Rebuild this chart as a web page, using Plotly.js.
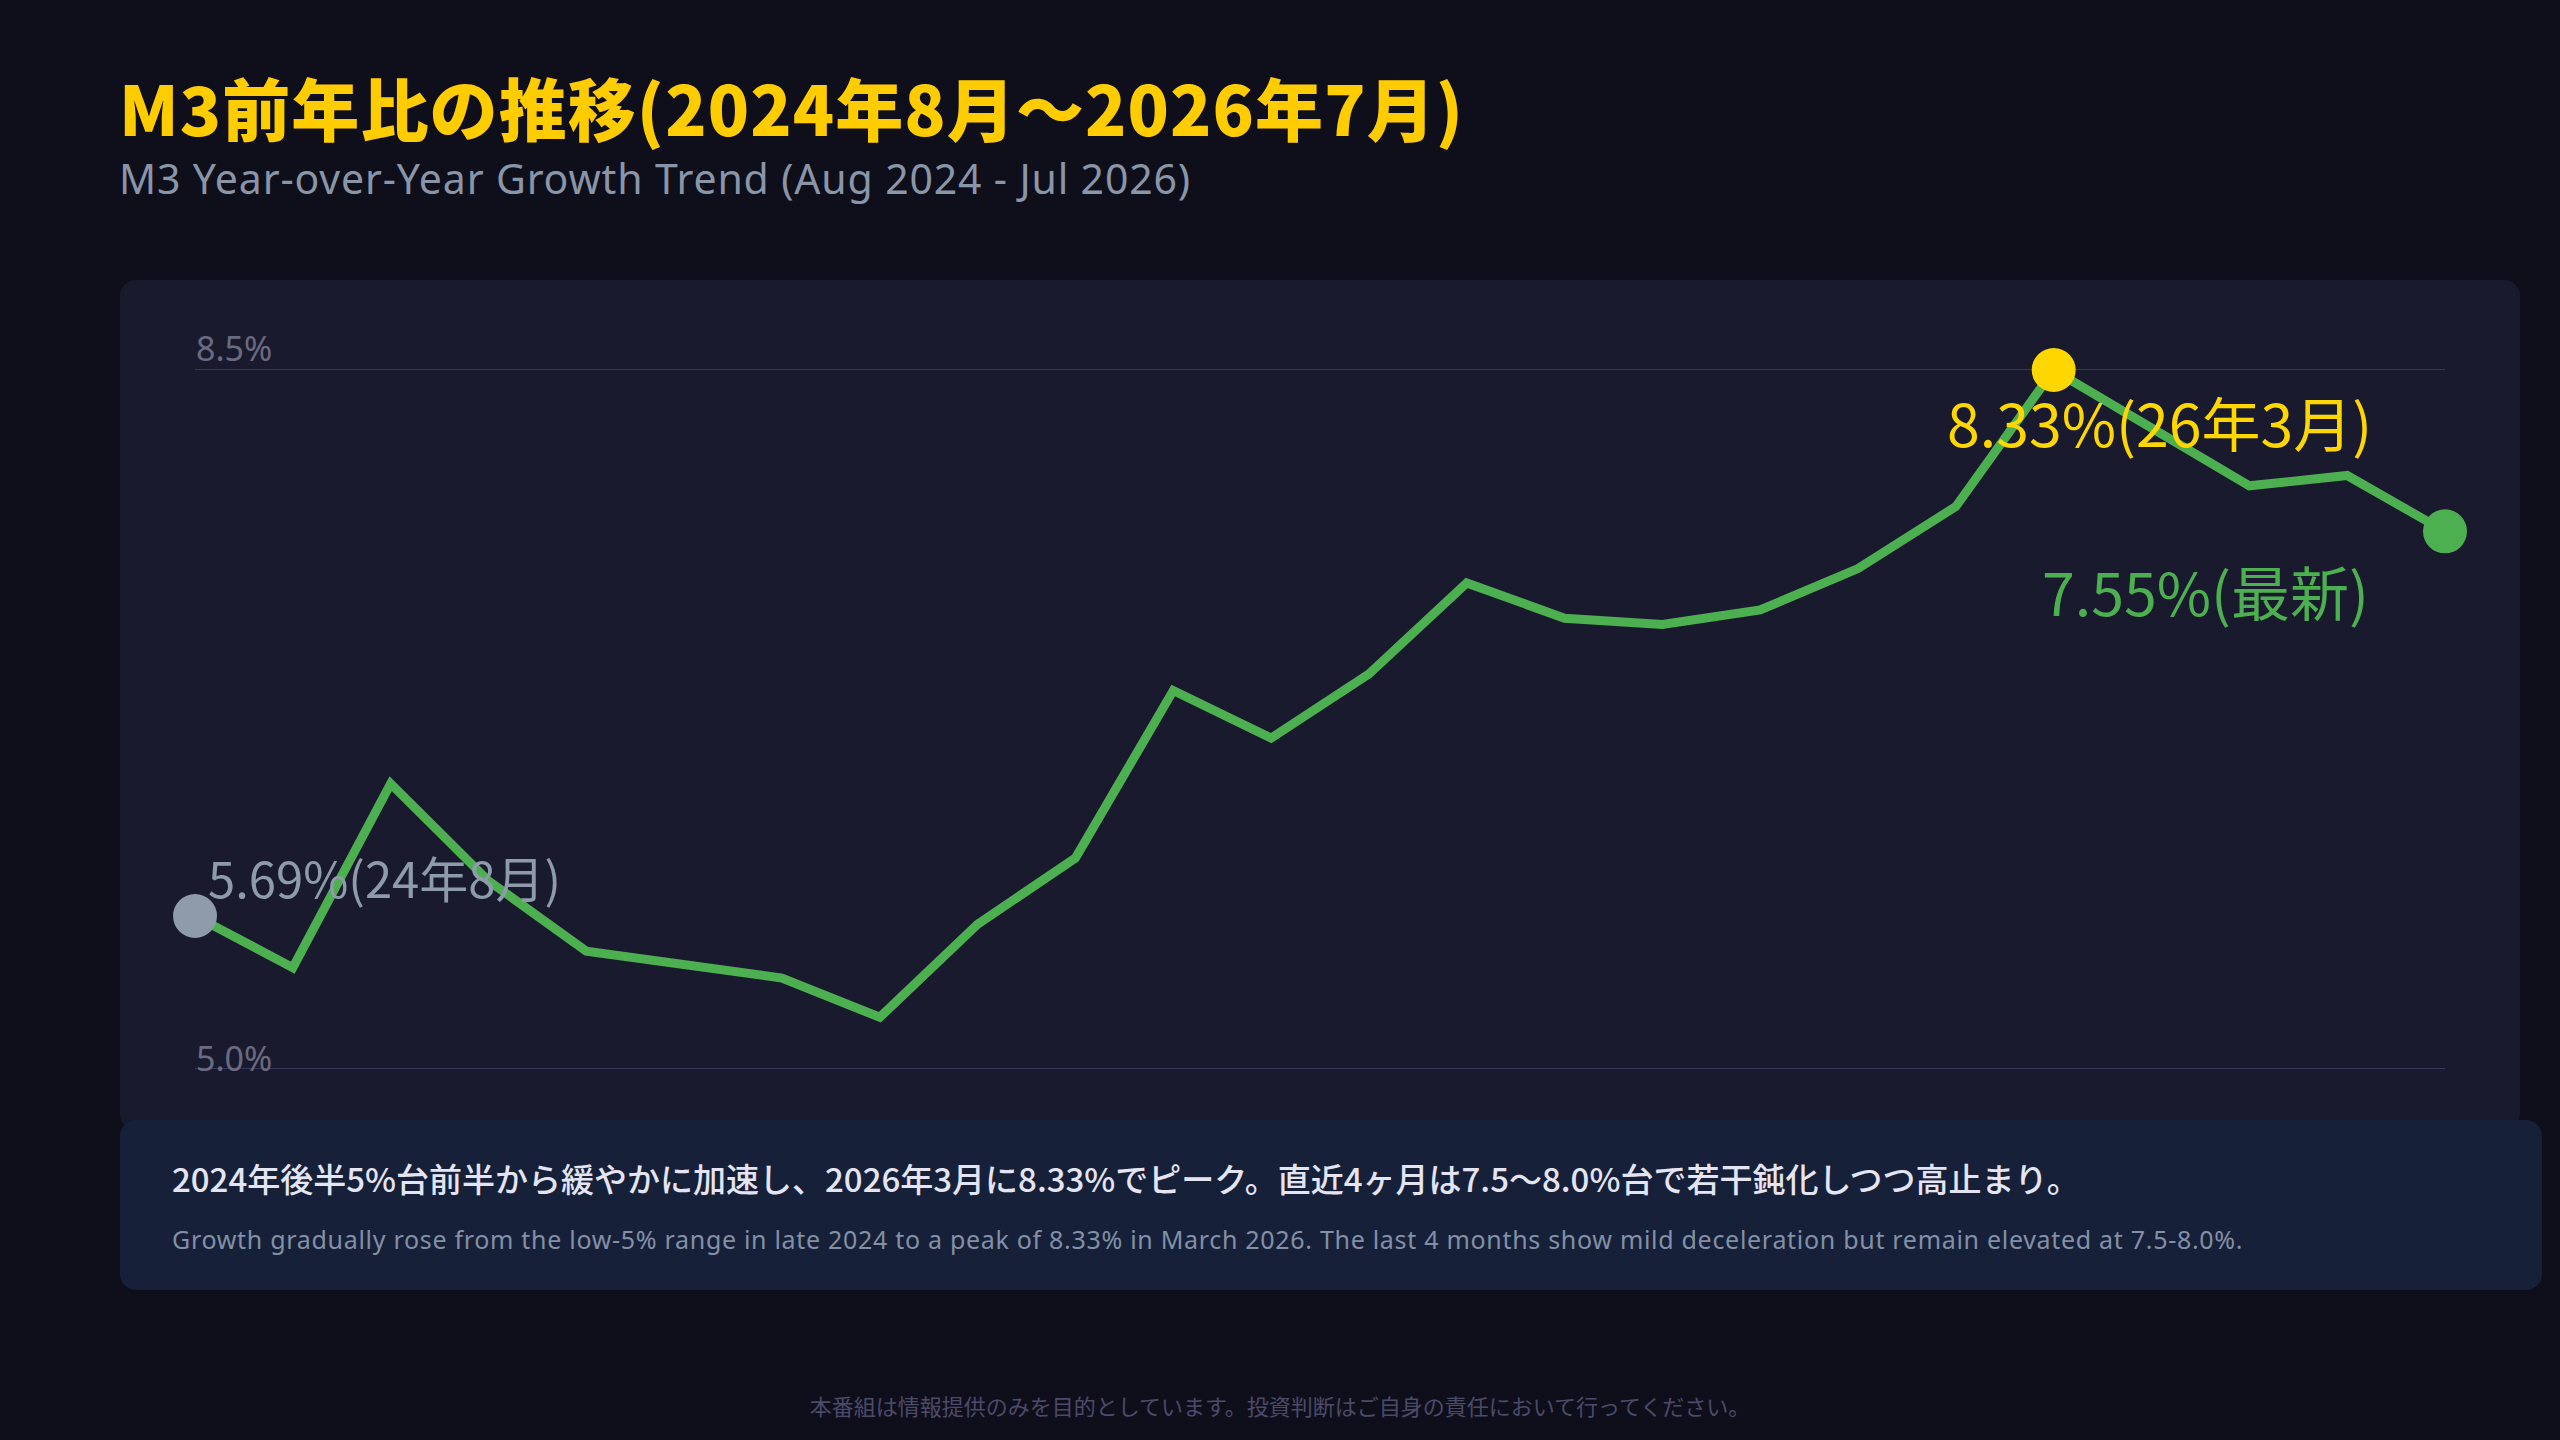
<!DOCTYPE html>
<html>
<head>
<meta charset="utf-8">
<script src="https://cdn.plot.ly/plotly-3.0.1.min.js"></script>
<style>
  html, body { margin:0; padding:0; width:2560px; height:1440px; overflow:hidden; background:#0f0f1c; }
  .abs { position:absolute; white-space:nowrap; }
  #title { left:119px; top:73px; font-family:'Noto Sans CJK JP', sans-serif; font-weight:900; font-size:68px; line-height:68px; letter-spacing:1.1px; color:#FFCC00; }
  #subtitle { left:119px; top:158px; font-family:'Noto Sans', sans-serif; font-size:41px; line-height:41px; letter-spacing:0.85px; color:#8a96a8; }
  #card { left:120px; top:280px; width:2400px; height:850px; border-radius:16px; background:#1a1a2e; }
  #summary { left:120px; top:1120px; width:2422px; height:170px; border-radius:16px; background:#172039; }
  #sumJa { left:172px; top:1162px; font-family:'Noto Sans CJK JP', sans-serif; font-weight:500; font-size:33px; line-height:33px; color:#e4e4f2; }
  #sumEn { left:172px; top:1227px; font-family:'Noto Sans', sans-serif; font-size:25px; line-height:25px; letter-spacing:0.7px; color:#8390a6; }
  #footer { left:0; width:2560px; text-align:center; top:1394px; font-family:'Noto Sans CJK JP', sans-serif; font-size:22px; line-height:22px; color:#4c4a6a; }
  #chart { position:absolute; left:0; top:0; width:2560px; height:1440px; }
</style>
</head>
<body>
<div id="card" class="abs"></div>
<div id="summary" class="abs"></div>
<div id="title" class="abs">M3前年比の推移(2024年8月〜2026年7月)</div>
<div id="subtitle" class="abs">M3 Year-over-Year Growth Trend (Aug 2024 - Jul 2026)</div>
<div id="sumJa" class="abs">2024年後半5%台前半から緩やかに加速し、2026年3月に8.33%でピーク。直近4ヶ月は7.5〜8.0%台で若干鈍化しつつ高止まり。</div>
<div id="sumEn" class="abs">Growth gradually rose from the low-5% range in late 2024 to a peak of 8.33% in March 2026. The last 4 months show mild deceleration but remain elevated at 7.5-8.0%.</div>
<div id="footer" class="abs">本番組は情報提供のみを目的としています。投資判断はご自身の責任において行ってください。</div>
<div id="chart"></div>
<script>
// ---- data ----
const months = ['24年8月','24年9月','24年10月','24年11月','24年12月','25年1月','25年2月','25年3月',
                '25年4月','25年5月','25年6月','25年7月','25年8月','25年9月','25年10月','25年11月',
                '25年12月','26年1月','26年2月','26年3月','26年4月','26年5月','26年6月','26年7月'];
const yoy = [5.69, 5.44, 6.33, 5.86, 5.52, 5.45, 5.39, 5.20, 5.65, 5.97, 6.78, 6.55,
             6.86, 7.30, 7.13, 7.10, 7.17, 7.37, 7.67, 8.33, 8.05, 7.77, 7.82, 7.55];
const axisMin = 4.95;
const axisMax = 8.335;
const tickVals = [axisMin, axisMax];
const tickLabels = ['5.0%', '8.5%'];
const latestTag = '最新';

// ---- derived ----
const n = yoy.length;
const peakIdx = yoy.indexOf(Math.max(...yoy));
const lastIdx = n - 1;
const fontJP = "'Noto Sans CJK JP', 'Noto Sans', sans-serif";

const traces = [
  { x: months, y: yoy, type: 'scatter', mode: 'lines',
    line: { color: '#4CAF50', width: 9 }, cliponaxis: false, hoverinfo: 'skip' },
  { x: [months[0]], y: [yoy[0]], type: 'scatter', mode: 'markers',
    marker: { color: '#8d9bab', size: 44 }, cliponaxis: false, hoverinfo: 'skip' },
  { x: [months[peakIdx]], y: [yoy[peakIdx]], type: 'scatter', mode: 'markers',
    marker: { color: '#FFD700', size: 44 }, cliponaxis: false, hoverinfo: 'skip' },
  { x: [months[lastIdx]], y: [yoy[lastIdx]], type: 'scatter', mode: 'markers',
    marker: { color: '#4CAF50', size: 44 }, cliponaxis: false, hoverinfo: 'skip' }
];

const gridShapes = tickVals.map(v => ({
  type: 'line', xref: 'paper', yref: 'y', x0: 0, x1: 1, y0: v, y1: v,
  line: { color: '#38385e', width: 2 }, layer: 'below'
}));

const tickShifts = [11, 21];
const tickAnnotations = tickVals.map((v, i) => ({
  xref: 'paper', yref: 'y', x: 0, y: v, text: tickLabels[i], showarrow: false,
  xanchor: 'left', yanchor: 'middle', yshift: tickShifts[i], borderpad: 0,
  font: { family: "'Noto Sans', sans-serif", size: 34, color: '#6a6a80' }
}));

const annotations = tickAnnotations.concat([
  { x: months[0], y: yoy[0], text: yoy[0].toFixed(2) + '%(' + months[0] + ')', showarrow: false,
    xanchor: 'left', yanchor: 'middle', xshift: 12, yshift: 39, borderpad: 0,
    font: { family: fontJP, size: 49, color: '#8d9bab' } },
  { x: months[peakIdx], y: yoy[peakIdx], text: yoy[peakIdx].toFixed(2) + '%(' + months[peakIdx] + ')', showarrow: false,
    xanchor: 'center', yanchor: 'middle', xshift: 106, yshift: -51, borderpad: 0,
    font: { family: fontJP, size: 59, color: '#FFD700' } },
  { x: months[lastIdx], y: yoy[lastIdx], text: yoy[lastIdx].toFixed(2) + '%(' + latestTag + ')', showarrow: false,
    xanchor: 'center', yanchor: 'middle', xshift: -240, yshift: -59, borderpad: 0,
    font: { family: fontJP, size: 59, color: '#4CAF50' } }
]);

const layout = {
  width: 2560, height: 1440,
  margin: { l: 195, r: 115, t: 369, b: 371, pad: 0 },
  paper_bgcolor: 'rgba(0,0,0,0)', plot_bgcolor: 'rgba(0,0,0,0)',
  showlegend: false,
  xaxis: { type: 'category', range: [0, n - 1], showgrid: false, zeroline: false,
           showline: false, showticklabels: false, ticks: '', fixedrange: true },
  yaxis: { range: [axisMin, axisMax], tickvals: tickVals, ticktext: tickLabels,
           showticklabels: false, ticks: '', showgrid: false,
           zeroline: false, showline: false, fixedrange: true },
  shapes: gridShapes,
  annotations: annotations
};

Plotly.newPlot('chart', traces, layout, { staticPlot: true, displayModeBar: false });
</script>
</body>
</html>
